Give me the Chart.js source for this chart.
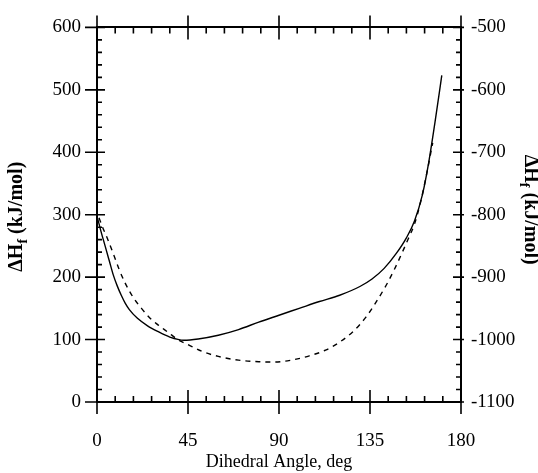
<!DOCTYPE html>
<html>
<head>
<meta charset="utf-8">
<script src="https://cdn.jsdelivr.net/npm/chart.js@4/dist/chart.umd.min.js"></script>
<style>
  html, body { margin: 0; padding: 0; background: #fff; }
  #chart { display: block; }
</style>
</head>
<body>
<canvas id="chart" width="538" height="473"></canvas>
<script>
// solid curve, left axis (kJ/mol)
const solidAngle = [0.3, 2, 4, 6, 8, 10, 12, 14, 16, 20, 25, 30, 36, 43, 50, 60, 70, 80, 90, 100, 110, 120, 130, 136, 142, 148, 153, 157, 161, 164, 167, 170.5];
const solidHeat = [294, 273, 250, 227, 204, 186, 171, 158, 148, 134, 122, 113, 104, 99, 101, 107, 116, 128, 139, 150, 161, 171, 185, 197, 214, 238, 263, 290, 333, 383, 445, 523];

// dashed curve, right axis (kJ/mol)
const dashAngle = [1, 3, 5, 8, 11, 14, 18, 22, 26, 30, 35, 40, 45, 52, 60, 70, 80, 88, 96, 105, 113, 120, 127, 133, 138, 143, 147, 151, 154, 157, 160, 163, 166];
const dashHeat = [-805, -822, -837, -862, -888, -910, -933, -950, -965, -976, -988, -1000, -1008, -1019, -1027, -1033, -1035.5, -1036, -1033, -1026, -1017, -1004, -986, -964, -940, -913, -888, -860, -838, -815, -780, -735, -685];

const xRange = [0, 180];
const leftRange = [0, 600];
const rightRange = [-1100, -500];

const serif = '"Liberation Serif", "DejaVu Serif", serif';

function pts(xs, ys) {
    return xs.map((x, i) => ({ x: x, y: ys[i] }));
}

// inward tick marks on all four sides
const tickMarks = {
    id: 'tickMarks',
    afterDraw(chart) {
        const ctx = chart.ctx;
        const { left, right, top, bottom } = chart.chartArea;
        const x = chart.scales.x, y = chart.scales.y, y2 = chart.scales.y2;
        ctx.save();
        ctx.strokeStyle = '#000';
        ctx.lineWidth = 1.6;
        ctx.beginPath();
        for (let v = xRange[0]; v <= xRange[1]; v += 9) {
            const px = x.getPixelForValue(v);
            const major = v % 45 === 0;
            ctx.moveTo(px, bottom + (major ? 12 : 0));
            ctx.lineTo(px, bottom - (major ? 12 : 6));
            ctx.moveTo(px, top - (major ? 12 : 0));
            ctx.lineTo(px, top + (major ? 12 : 6));
        }
        for (let v = leftRange[0]; v <= leftRange[1]; v += 20) {
            const py = y.getPixelForValue(v);
            const major = v % 100 === 0;
            ctx.moveTo(left - (major ? 12 : 0), py);
            ctx.lineTo(left + (major ? 8 : 5), py);
        }
        for (let v = rightRange[0]; v <= rightRange[1]; v += 20) {
            const py = y2.getPixelForValue(v);
            const major = v % 100 === 0;
            ctx.moveTo(right + (major ? 3 : 0), py);
            ctx.lineTo(right - (major ? 8 : 5), py);
        }
        ctx.stroke();
        ctx.restore();
    }
};

// "ΔHf (kJ/mol)" with a real subscript, rotated
function drawHeatTitle(ctx, cx, cy, angle) {
    const big = 'bold 20px ' + serif;
    const small = 'bold 14px ' + serif;
    ctx.save();
    ctx.translate(cx, cy);
    ctx.rotate(angle);
    ctx.fillStyle = '#000';
    ctx.textBaseline = 'middle';
    ctx.textAlign = 'left';
    ctx.font = big;
    const w1 = ctx.measureText('\u0394H').width;
    const w3 = ctx.measureText(' (kJ/mol)').width;
    ctx.font = small;
    const w2 = ctx.measureText('f').width;
    let sx = -(w1 + w2 + w3) / 2;
    ctx.font = big;
    ctx.fillText('\u0394H', sx, 0);
    ctx.font = small;
    ctx.fillText('f', sx + w1, 6);
    ctx.font = big;
    ctx.fillText(' (kJ/mol)', sx + w1 + w2, 0);
    ctx.restore();
}

const axisTitles = {
    id: 'axisTitles',
    afterDraw(chart) {
        const { top, bottom } = chart.chartArea;
        const mid = (top + bottom) / 2;
        drawHeatTitle(chart.ctx, 17, mid + 2, -Math.PI / 2);
        drawHeatTitle(chart.ctx, 530, mid - 5, Math.PI / 2);
    }
};

new Chart(document.getElementById('chart').getContext('2d'), {
    type: 'line',
    data: {
        datasets: [
            {
                label: 'solid',
                data: pts(solidAngle, solidHeat),
                yAxisID: 'y',
                borderColor: '#000',
                borderWidth: 1.4,
                pointRadius: 0,
                cubicInterpolationMode: 'monotone',
                fill: false
            },
            {
                label: 'dashed',
                data: pts(dashAngle, dashHeat),
                yAxisID: 'y2',
                borderColor: '#000',
                borderWidth: 1.4,
                borderDash: [5, 5],
                pointRadius: 0,
                cubicInterpolationMode: 'monotone',
                fill: false
            }
        ]
    },
    options: {
        responsive: false,
        animation: false,
        layout: { padding: 0 },
        plugins: {
            legend: { display: false },
            tooltip: { enabled: false }
        },
        scales: {
            x: {
                type: 'linear',
                position: 'bottom',
                min: xRange[0],
                max: xRange[1],
                afterFit: s => { s.height = 71; },
                afterBuildTicks: s => { s.ticks = [0, 45, 90, 135, 180].map(v => ({ value: v })); },
                grid: { display: false, drawTicks: false },
                border: { display: true, color: '#000', width: 2 },
                ticks: { color: '#000', padding: 28, maxRotation: 0, font: { family: serif, size: 19 }, callback: v => String(v) },
                title: {
                    display: true,
                    text: 'Dihedral Angle, deg',
                    color: '#000',
                    padding: 0,
                    font: { family: serif, size: 18 }
                }
            },
            x2: {
                type: 'linear',
                position: 'top',
                min: xRange[0],
                max: xRange[1],
                afterFit: s => { s.height = 27; },
                grid: { display: false, drawTicks: false },
                border: { display: true, color: '#000', width: 2 },
                ticks: { display: false }
            },
            y: {
                type: 'linear',
                position: 'left',
                min: leftRange[0],
                max: leftRange[1],
                afterFit: s => { s.width = 97; },
                grid: { display: false, drawTicks: false },
                border: { display: true, color: '#000', width: 2 },
                ticks: { stepSize: 100, color: '#000', padding: 16, font: { family: serif, size: 19 }, callback: v => String(v) }
            },
            y2: {
                type: 'linear',
                position: 'right',
                min: rightRange[0],
                max: rightRange[1],
                afterFit: s => { s.width = 77; },
                grid: { display: false, drawTicks: false },
                border: { display: true, color: '#000', width: 2 },
                ticks: { stepSize: 100, color: '#000', padding: 10, font: { family: serif, size: 19 }, callback: v => String(v) }
            }
        }
    },
    plugins: [tickMarks, axisTitles]
});
</script>
</body>
</html>
